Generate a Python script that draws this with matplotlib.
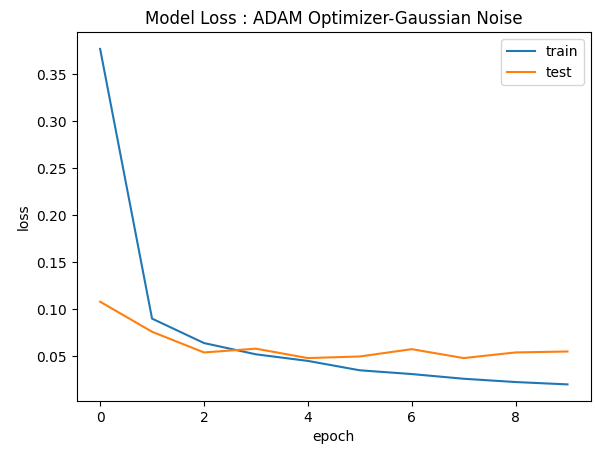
import matplotlib
matplotlib.use("Agg")
import matplotlib.pyplot as plt

# loss history
epochs = list(range(10))
train_loss = [0.377, 0.090, 0.064, 0.052, 0.045, 0.035, 0.031, 0.026, 0.0225, 0.020]
test_loss = [0.108, 0.076, 0.054, 0.058, 0.048, 0.0497, 0.0575, 0.048, 0.054, 0.055]

fig = plt.figure(figsize=(5.95, 4.59), dpi=100)
ax = fig.add_axes([0.129, 0.126, 0.864, 0.804])
ax.plot(epochs, train_loss, label='train')
ax.plot(epochs, test_loss, label='test')
ax.set_title('Model Loss : ADAM Optimizer-Gaussian Noise')
ax.set_ylabel('loss')
ax.set_xlabel('epoch')
ax.legend(loc='upper right')
fig.savefig('out.png', dpi=100)
